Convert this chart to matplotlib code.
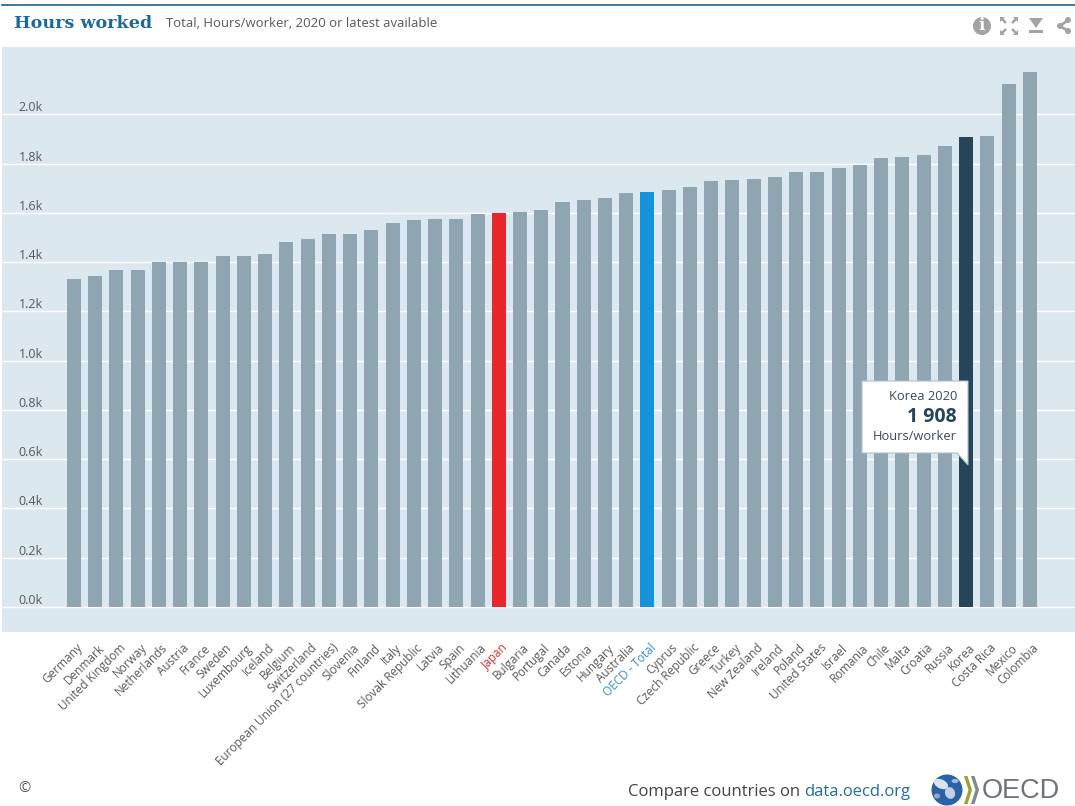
import matplotlib
matplotlib.use('Agg')
import matplotlib.pyplot as plt
from matplotlib.patches import Circle, Polygon, Rectangle, Ellipse
from matplotlib.transforms import ScaledTranslation

countries = ['Germany', 'Denmark', 'United Kingdom', 'Norway', 'Netherlands', 'Austria', 'France', 'Sweden',
             'Luxembourg', 'Iceland', 'Belgium', 'Switzerland', 'European Union (27 countries)', 'Slovenia',
             'Finland', 'Italy', 'Slovak Republic', 'Latvia', 'Spain', 'Lithuania', 'Japan', 'Bulgaria',
             'Portugal', 'Canada', 'Estonia', 'Hungary', 'Australia', 'OECD - Total', 'Cyprus', 'Czech Republic',
             'Greece', 'Turkey', 'New Zealand', 'Ireland', 'Poland', 'United States', 'Israel', 'Romania',
             'Chile', 'Malta', 'Croatia', 'Russia', 'Korea', 'Costa Rica', 'Mexico', 'Colombia']
hours = [1332, 1345, 1367, 1367, 1399, 1399, 1402, 1424,
         1425, 1435, 1482, 1495, 1513, 1515,
         1531, 1559, 1572, 1574, 1577, 1597, 1598, 1604,
         1613, 1644, 1652, 1660, 1683, 1684, 1695, 1705,
         1728, 1732, 1739, 1747, 1766, 1767, 1783, 1795,
         1825, 1827, 1836, 1874, 1908, 1913, 2124, 2172]
y_ticks = [0, 200, 400, 600, 800, 1000, 1200, 1400, 1600, 1800, 2000]
y_labels = ['0.0k', '0.2k', '0.4k', '0.6k', '0.8k', '1.0k', '1.2k', '1.4k', '1.6k', '1.8k', '2.0k']
highlight = {'Japan': '#e8262b', 'OECD - Total': '#1593d9', 'Korea': '#264559'}
label_colors = {'Japan': '#d9302f', 'OECD - Total': '#3b8fc4'}

W, H = 1075, 806
FONT = 'Open Sans'
GREY = '#595959'

fig = plt.figure(figsize=(W / 100, H / 100), dpi=100)

# chart panel, placed in pixels
ax = fig.add_axes([2 / W, 1 - 632 / H, (W - 2) / W, (632 - 47) / H])
ax.set_facecolor('#dce8f0')
colors = [highlight.get(c, '#8fa5b2') for c in countries]
ax.bar(range(len(countries)), hours, width=0.66, color=colors, zorder=2)
ax.set_xlim(-3.39, 47.13)
ax.set_ylim(-101.5, 2274)
for s in ax.spines.values():
    s.set_visible(False)
ax.set_yticks(y_ticks)
ax.set_yticklabels(y_labels, fontname=FONT, fontsize=9, color=GREY, ha='left', va='bottom')
ax.tick_params(axis='y', length=0, pad=-12)
ax.grid(axis='y', color='white', lw=1, zorder=1)
ax.set_axisbelow(True)
ax.set_xticks(range(len(countries)))
ax.set_xticklabels(countries, rotation=45, ha='right', va='center', rotation_mode='anchor',
                   fontname=FONT, fontsize=8.5, color=GREY)
# tick_params resets the label transform, so the shift has to come after it
ax.tick_params(axis='x', length=0, pad=10)
shift = ScaledTranslation(7 / 100, 0, fig.dpi_scale_trans)
for lab, c in zip(ax.get_xticklabels(), countries):
    lab.set_transform(lab.get_transform() + shift)
    if c in label_colors:
        lab.set_color(label_colors[c])

# overlay in pixel coordinates for header, tooltip, footer
ov = fig.add_axes([0, 0, 1, 1], zorder=5)
ov.set_xlim(0, W)
ov.set_ylim(H, 0)
ov.axis('off')
ov.patch.set_alpha(0)

ov.plot([2, W], [4.5, 4.5], color='#1f5f8f', lw=1.2)
ov.text(14, 23, 'Hours worked', fontname='DejaVu Serif', fontweight='bold', fontsize=12.6,
        color='#1a6a9d', va='center')
ov.text(166, 23.5, 'Total, Hours/worker, 2020 or latest available', fontname=FONT, fontsize=9.45,
        color=GREY, va='center')

# header icons
ICON = '#a3a3a3'
ov.add_patch(Circle((982, 26), 9, color=ICON, lw=0))
ov.text(982, 26, 'i', color='white', fontname='DejaVu Serif', fontweight='bold', fontsize=12,
        ha='center', va='center')
for dx, dy in [(-1, -1), (1, -1), (-1, 1), (1, 1)]:
    cx, cy = 1009 + dx * 6, 26 + dy * 6
    ov.add_patch(Polygon([(cx + dx * 3, cy + dy * 3), (cx - dx * 2, cy + dy * 3), (cx + dx * 3, cy - dy * 2)],
                         color=ICON, lw=0))
    ov.plot([cx + dx, cx - dx * 3], [cy + dy, cy - dy * 3], color=ICON, lw=1.8, solid_capstyle='butt')
ov.add_patch(Polygon([(1029, 18), (1043, 18), (1036, 28)], color=ICON, lw=0))
ov.add_patch(Rectangle((1029, 30), 14, 2.5, color=ICON, lw=0))
ov.plot([1068, 1060, 1068], [20, 26, 31], color=ICON, lw=2)
for px, py, r in [(1068, 20, 3), (1060, 26, 3), (1068, 31, 3)]:
    ov.add_patch(Circle((px, py), r, color=ICON, lw=0))

# tooltip
ov.add_patch(Polygon([(862, 381), (968, 381), (968, 465), (957, 453), (862, 453)],
                     facecolor='white', edgecolor='#a9c1cf', lw=0.8))
ov.text(957, 396, 'Korea 2020', fontname=FONT, fontsize=9.3, color='#3c4a54', ha='right', va='center')
ov.text(957, 417, '1 908', fontname=FONT, fontweight='bold', fontsize=14, color='#264559', ha='right', va='center')
ov.text(957, 436, 'Hours/worker', fontname=FONT, fontsize=9.3, color='#3c4a54', ha='right', va='center')

# footer
ov.text(18, 789, '©', fontname=FONT, fontsize=10.5, color='#555555', va='center')
ov.text(628, 792.5, 'Compare countries on ', fontname=FONT, fontsize=12, color='#444444', va='center')
ov.text(804, 792.5, 'data.oecd.org', fontname=FONT, fontsize=12, color='#1f6ea5', va='center')

# logo: globe, chevrons, wordmark
ov.add_patch(Circle((947, 790), 15.5, color='#2a62a6', lw=0))
ov.add_patch(Ellipse((941, 784), 15, 9, angle=25, color='#dbe4ee', lw=0))
ov.add_patch(Ellipse((950, 793), 10, 12, angle=-20, color='#c3d2e2', lw=0))
ov.add_patch(Ellipse((937, 796), 6, 5, color='#8eaacb', lw=0))
ov.add_patch(Ellipse((955, 781), 7, 4, color='#a6bdd6', lw=0))
for x0, col in [(964, '#9aa32f'), (971, '#7f8a8f')]:
    ov.add_patch(Polygon([(x0, 776), (x0 + 3.5, 776), (x0 + 8, 790), (x0 + 3.5, 804), (x0, 804), (x0 + 4.5, 790)],
                         color=col, lw=0))
ov.text(982, 791, 'OECD', fontname='Liberation Sans', fontsize=19.5, color='#6f7478', va='center')

fig.savefig('out.png', dpi=100, facecolor='white')
